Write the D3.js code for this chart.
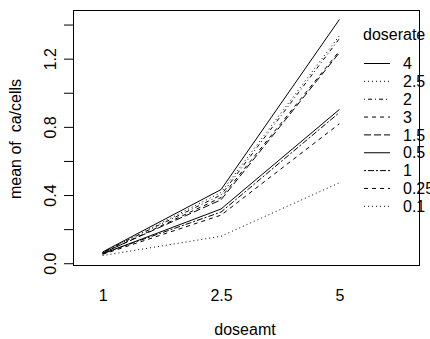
<!DOCTYPE html>
<html><head><meta charset="utf-8">
<script src="https://cdn.jsdelivr.net/npm/d3@7"></script>
<style>
html,body{margin:0;padding:0;background:#fff;}
svg text{font-family:"Liberation Sans",Arial,sans-serif;font-size:16px;fill:#000;white-space:pre;}
</style></head>
<body><svg id="c" width="430" height="339"></svg>
<script>
// x categories (doseamt)
const doseamt = ["1", "2.5", "5"];
// trace factor levels (doserate), in legend order (descending by last value)
const doserate = ["4", "2.5", "2", "3", "1.5", "0.5", "1", "0.25", "0.1"];
// mean of ca/cells for each doserate at doseamt 1, 2.5, 5
const v4   = [0.066, 0.432, 1.430];
const v2_5 = [0.062, 0.415, 1.335];
const v2   = [0.064, 0.400, 1.318];
const v3   = [0.058, 0.385, 1.245];
const v1_5 = [0.060, 0.372, 1.235];
const v0_5 = [0.055, 0.318, 0.902];
const v1   = [0.057, 0.300, 0.884];
const v0_25= [0.052, 0.282, 0.818];
const v0_1 = [0.045, 0.158, 0.472];
const yTicks = [0, 0.2, 0.4, 0.6, 0.8, 1.0, 1.2, 1.4];
const yTickLabels = ["0.0", "", "0.4", "", "0.8", "", "1.2", ""];
const xTitle = "doseamt";
const yTitle = "mean of  ca/cells";
const legendTitle = "doserate";

const seriesValues = [v4, v2_5, v2, v3, v1_5, v0_5, v1, v0_25, v0_1];
// R lty styles: solid, dashed "44", dotted "13", dotdash "1343", longdash "73", twodash "2262"
const dashes = {"4":null, "2.5":"1,3", "2":"1,3,4,3", "3":"4,4", "1.5":"7,3", "0.5":null, "1":"2,2,6,2", "0.25":"4,4", "0.1":"1,3"};

const svg = d3.select("#c");
const box = {l:73, r:419, t:10, b:265};

const allV = seriesValues.flat();
const lo = d3.min(allV), hi = d3.max(allV), ext = (hi - lo) * 0.04;
const y = d3.scaleLinear().domain([lo - ext, hi + ext]).range([box.b, box.t]);
const x = d3.scaleLinear().domain([0.75, 3.672]).range([box.l, box.r]);
const xi = i => x(i + 1);

// lines
const line = d3.line().x((d,i) => xi(i)).y(d => y(d));
const g = svg.append("g");
doserate.forEach((k, j) => {
  g.append("path").attr("d", line(seriesValues[j]))
   .attr("fill","none").attr("stroke","#000").attr("stroke-width",1)
   .attr("stroke-dasharray", dashes[k]);
});

// y axis
const yAxis = d3.axisLeft(y).tickValues(yTicks).tickSize(9).tickFormat((d,i)=>yTickLabels[i]);
const ya = svg.append("g").attr("transform",`translate(${box.l},0)`).call(yAxis);
ya.select(".domain").remove();
ya.selectAll(".tick line").attr("stroke","#000");
ya.selectAll(".tick text").attr("font-size",16).attr("font-family",null)
  .attr("x",null).attr("dy",null)
  .attr("transform",d=>`translate(-21,0) rotate(-90)`)
  .attr("text-anchor","middle").attr("dominant-baseline","middle").attr("fill","#000");

// x axis labels (no ticks)
const xAxis = d3.axisBottom(x).tickValues([1,2,3]).tickSize(0).tickFormat((d,i)=>doseamt[i]);
const xa = svg.append("g").attr("transform",`translate(0,${box.b})`).call(xAxis);
xa.select(".domain").remove();
xa.selectAll(".tick text").attr("font-size",16).attr("font-family",null).attr("fill","#000")
  .attr("y",30).attr("dy","0.35em");

// axis titles
svg.append("text").attr("x",(box.l+box.r)/2 - 1).attr("y",329).attr("dy","0.35em")
   .attr("text-anchor","middle").text(xTitle);
svg.append("text").attr("transform",`translate(15,139) rotate(-90)`).attr("dy","0.35em")
   .attr("text-anchor","middle").text(yTitle);

// legend
svg.append("text").attr("x",363).attr("y",34).attr("dy","0.35em").text(legendTitle);
doserate.forEach((k,j) => {
  const yy = 63.5 + j*17.85;
  svg.append("line").attr("x1",364).attr("x2",390).attr("y1",yy).attr("y2",yy)
     .attr("stroke","#000").attr("stroke-width",1).attr("stroke-dasharray",dashes[k]);
  svg.append("text").attr("x",403).attr("y",yy).attr("dy","0.35em").text(k);
});

// box
svg.append("rect").attr("x",box.l+0.5).attr("y",box.t+0.5)
   .attr("width",box.r-box.l).attr("height",box.b-box.t)
   .attr("fill","none").attr("stroke","#000").attr("stroke-width",1);
</script></body></html>
